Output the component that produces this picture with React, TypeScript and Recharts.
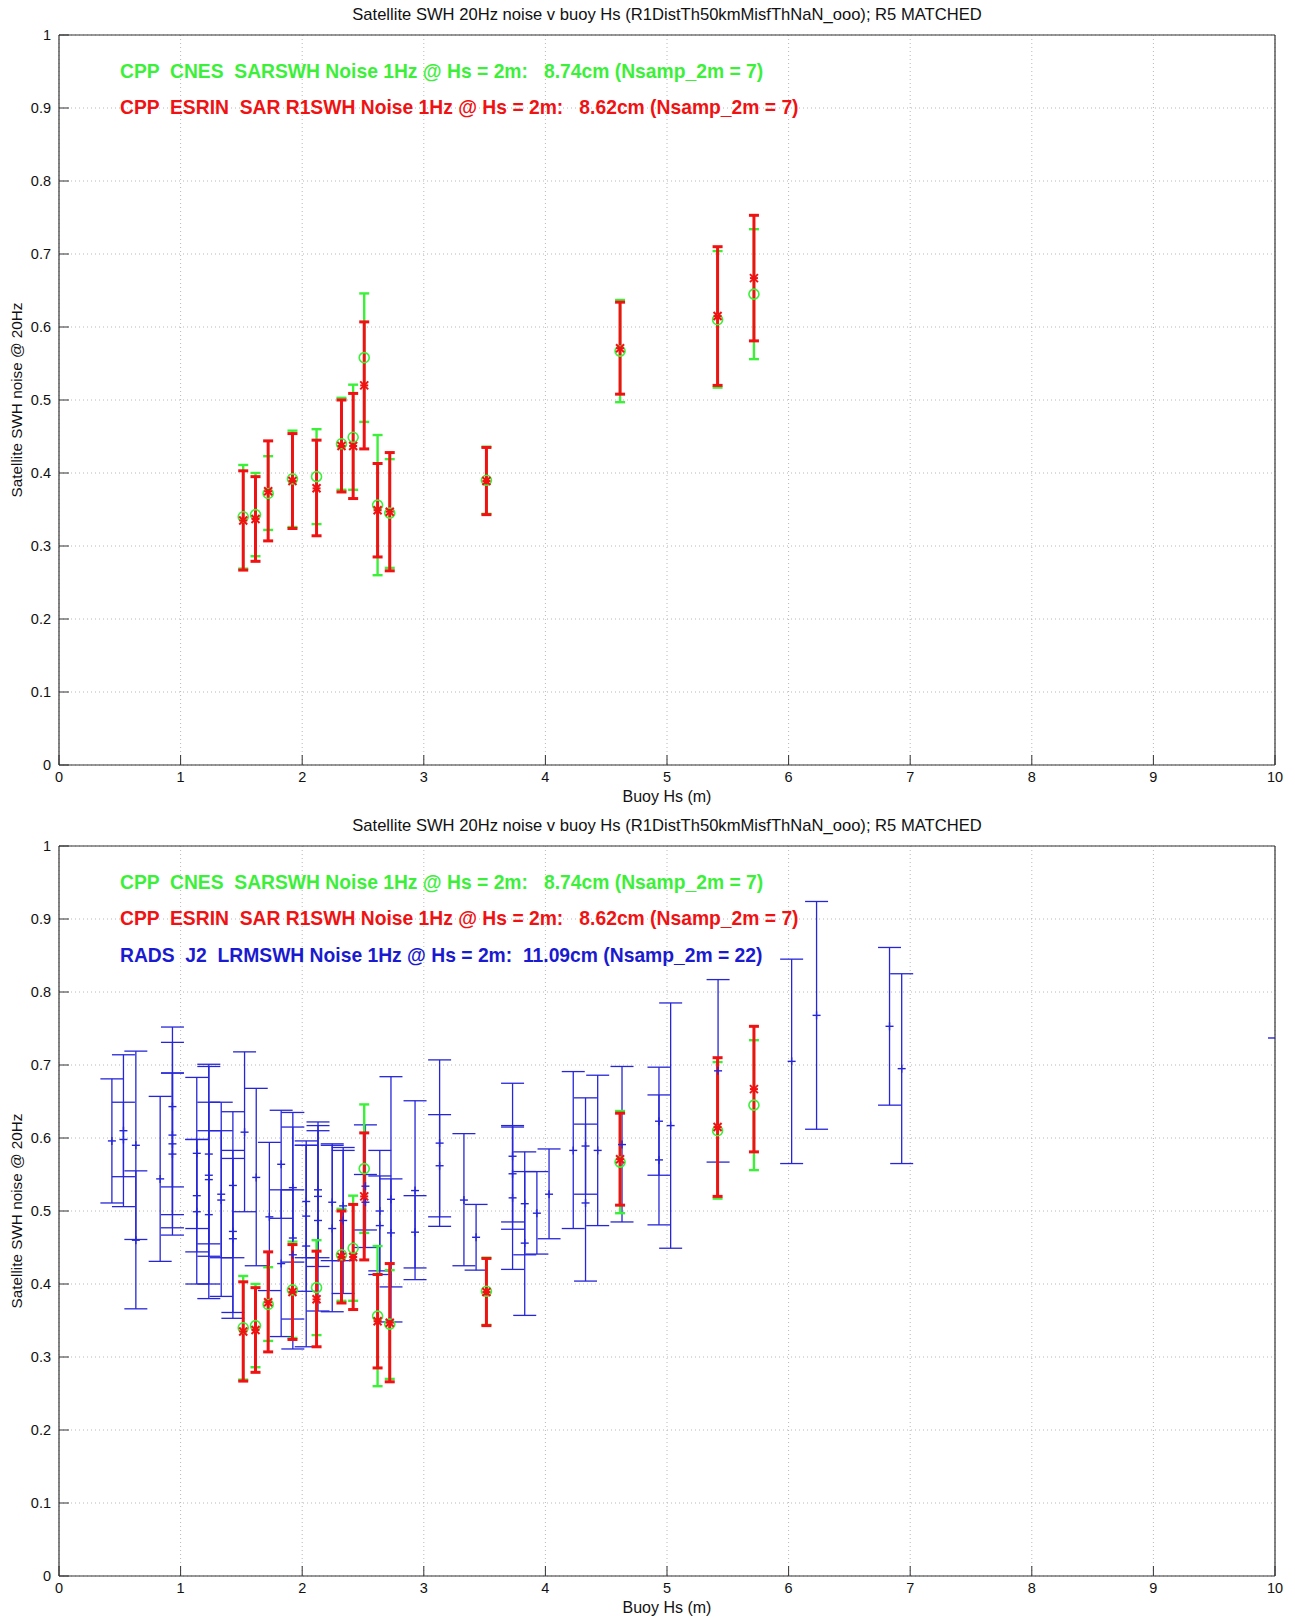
import React from 'react';
import { ScatterChart, Scatter, XAxis, YAxis, CartesianGrid, ErrorBar } from 'recharts';

// ---------- text ----------
const TITLE = 'Satellite SWH 20Hz noise v buoy Hs (R1DistTh50kmMisfThNaN_ooo); R5 MATCHED';
const X_LABEL = 'Buoy Hs (m)';
const Y_LABEL = 'Satellite SWH noise @ 20Hz';
const LEG_CNES = 'CPP  CNES  SARSWH Noise 1Hz @ Hs = 2m:   8.74cm (Nsamp_2m = 7)';
const LEG_ESRIN = 'CPP  ESRIN  SAR R1SWH Noise 1Hz @ Hs = 2m:   8.62cm (Nsamp_2m = 7)';
const LEG_RADS = 'RADS  J2  LRMSWH Noise 1Hz @ Hs = 2m:  11.09cm (Nsamp_2m = 22)';

// ---------- ticks ----------
const X_TICKS = [0, 1, 2, 3, 4, 5, 6, 7, 8, 9, 10];
const Y_TICKS = [0, 0.1, 0.2, 0.3, 0.4, 0.5, 0.6, 0.7, 0.8, 0.9, 1];

// ---------- CPP ESRIN (red) ----------
const esrinHs = [1.515, 1.616, 1.72, 1.92, 2.118, 2.323, 2.419, 2.51, 2.62, 2.72, 3.515, 4.614, 5.416, 5.715];
const esrinMid = [0.335, 0.337, 0.375, 0.389, 0.379, 0.437, 0.437, 0.52, 0.349, 0.347, 0.389, 0.571, 0.615, 0.667];
const esrinLow = [0.267, 0.279, 0.307, 0.324, 0.314, 0.374, 0.365, 0.433, 0.285, 0.266, 0.343, 0.508, 0.52, 0.581];
const esrinHigh = [0.403, 0.395, 0.444, 0.454, 0.445, 0.5, 0.509, 0.607, 0.413, 0.428, 0.435, 0.634, 0.71, 0.753];

// ---------- CPP CNES (green) ----------
const cnesHs = [1.515, 1.616, 1.72, 1.92, 2.118, 2.323, 2.419, 2.51, 2.62, 2.72, 3.515, 4.614, 5.416, 5.715];
const cnesMid = [0.34, 0.343, 0.372, 0.392, 0.395, 0.44, 0.449, 0.558, 0.356, 0.345, 0.39, 0.567, 0.61, 0.645];
const cnesLow = [0.269, 0.286, 0.322, 0.326, 0.33, 0.377, 0.377, 0.47, 0.26, 0.27, 0.344, 0.497, 0.517, 0.556];
const cnesHigh = [0.411, 0.4, 0.423, 0.458, 0.46, 0.503, 0.521, 0.646, 0.452, 0.419, 0.436, 0.637, 0.704, 0.734];

// ---------- RADS J2 (blue) ----------
const radsHs = [
  0.435, 0.53, 0.53, 0.632, 0.632, 0.832, 0.933, 0.933, 0.933, 0.933,
  1.133, 1.133, 1.133, 1.232, 1.232, 1.232, 1.232, 1.334, 1.334, 1.43,
  1.43, 1.43, 1.526, 1.622, 1.73, 1.827, 1.827, 1.923, 1.923, 1.923,
  2.033, 2.033, 2.033, 2.13, 2.13, 2.13, 2.247, 2.247, 2.337, 2.337,
  2.52, 2.52, 2.638, 2.638, 2.73, 2.73, 2.928, 2.928, 3.13, 3.13,
  3.33, 3.43, 3.73, 3.73, 3.73, 3.83, 3.83, 3.93, 4.03, 4.229,
  4.33, 4.33, 4.43, 4.63, 4.934, 4.934, 5.03, 5.42, 6.025, 6.23,
  6.83, 6.93,
];
const radsMid = [
  0.596, 0.61, 0.598, 0.59, 0.46, 0.544, 0.643, 0.604, 0.592, 0.578,
  0.579, 0.521, 0.499, 0.578, 0.549, 0.543, 0.495, 0.515, 0.523, 0.535,
  0.472, 0.462, 0.608, 0.546, 0.492, 0.564, 0.428, 0.532, 0.463, 0.44,
  0.513, 0.452, 0.493, 0.529, 0.52, 0.487, 0.512, 0.476, 0.487, 0.507,
  0.534, 0.512, 0.5, 0.48, 0.516, 0.47, 0.528, 0.471, 0.593, 0.562,
  0.515, 0.464, 0.575, 0.518, 0.551, 0.51, 0.456, 0.497, 0.523, 0.583,
  0.589, 0.511, 0.583, 0.591, 0.623, 0.57, 0.617, 0.692, 0.705, 0.768,
  0.753, 0.695,
];
const radsLow = [
  0.511, 0.506, 0.547, 0.461, 0.366, 0.431, 0.533, 0.477, 0.495, 0.467,
  0.476, 0.444, 0.4, 0.455, 0.4, 0.438, 0.38, 0.383, 0.436, 0.436,
  0.361, 0.353, 0.499, 0.425, 0.391, 0.49, 0.328, 0.43, 0.311, 0.352,
  0.436, 0.314, 0.39, 0.436, 0.424, 0.363, 0.432, 0.362, 0.387, 0.432,
  0.45, 0.474, 0.418, 0.413, 0.348, 0.396, 0.406, 0.422, 0.479, 0.492,
  0.425, 0.419, 0.475, 0.42, 0.485, 0.44, 0.357, 0.441, 0.462, 0.476,
  0.523, 0.404, 0.48, 0.485, 0.549, 0.481, 0.449, 0.567, 0.565, 0.612,
  0.645, 0.565,
];
const radsHigh = [
  0.681, 0.714, 0.649, 0.719, 0.555, 0.657, 0.752, 0.731, 0.689, 0.689,
  0.683, 0.598, 0.598, 0.701, 0.698, 0.649, 0.61, 0.649, 0.61, 0.636,
  0.583, 0.572, 0.718, 0.668, 0.594, 0.638, 0.529, 0.635, 0.615, 0.529,
  0.59, 0.59, 0.596, 0.622, 0.617, 0.61, 0.592, 0.59, 0.587, 0.583,
  0.618, 0.55, 0.583, 0.548, 0.684, 0.544, 0.651, 0.521, 0.707, 0.632,
  0.606, 0.509, 0.675, 0.615, 0.617, 0.581, 0.554, 0.554, 0.585, 0.691,
  0.655, 0.619, 0.686, 0.698, 0.697, 0.659, 0.785, 0.817, 0.845, 0.924,
  0.861, 0.825,
];
// RADS point at the right edge (only its marker is visible)
const radsEdgeHs = [10];
const radsEdgeMid = [0.737];

// ---------- styling ----------
const FONT = '"Liberation Sans", Arial, Helvetica, sans-serif';
const GREEN = '#3cf03a';
const RED = '#f01212';
const BLUE = '#2626d8';
const AXIS = '#333333';
const W = 1295;

type Row = { x: number; y: number; err: number[] };
const build = (xs: number[], mid: number[], lo: number[], hi: number[]): Row[] =>
  xs.map((x, i) => ({ x, y: mid[i], err: [mid[i] - lo[i], hi[i] - mid[i]] }));

const esrinData = build(esrinHs, esrinMid, esrinLow, esrinHigh);
const cnesData = build(cnesHs, cnesMid, cnesLow, cnesHigh);
const radsData = build(radsHs, radsMid, radsLow, radsHigh);
const radsEdgeData = radsEdgeHs.map((x, i) => ({ x, y: radsEdgeMid[i] }));

const PlusShape = (props: any) => {
  const { cx, cy } = props;
  if (cx == null || cy == null) return null;
  return (
    <g>
      <line x1={cx - 4} x2={cx + 4} y1={cy} y2={cy} stroke={BLUE} strokeWidth={1.4} />
      <line x1={cx} x2={cx} y1={cy - 4} y2={cy + 4} stroke={BLUE} strokeWidth={1.4} />
    </g>
  );
};

const EdgeShape = (props: any) => {
  const { cx, cy } = props;
  if (cx == null || cy == null) return null;
  return <line x1={cx - 7} x2={cx} y1={cy} y2={cy} stroke={BLUE} strokeWidth={1.4} />;
};

const CircleShape = (props: any) => {
  const { cx, cy } = props;
  if (cx == null || cy == null) return null;
  return <circle cx={cx} cy={cy} r={5} fill="none" stroke={GREEN} strokeWidth={1.6} />;
};

const StarShape = (props: any) => {
  const { cx, cy } = props;
  if (cx == null || cy == null) return null;
  const s = 4;
  return (
    <g stroke={RED} strokeWidth={2}>
      <line x1={cx - s} x2={cx + s} y1={cy} y2={cy} />
      <line x1={cx - s} x2={cx + s} y1={cy - s} y2={cy + s} />
      <line x1={cx - s} x2={cx + s} y1={cy + s} y2={cy - s} />
    </g>
  );
};

const textBase: React.CSSProperties = {
  position: 'absolute',
  fontFamily: FONT,
  whiteSpace: 'pre',
  margin: 0,
  padding: 0,
};

const LEG_SIZE = 19.3;

function Panel({ top, height, showRads }: { top: number; height: number; showRads: boolean }) {
  const plotTop = 35;
  const plotBottom = 765;
  const plotMidY = (plotTop + plotBottom) / 2;
  return (
    <div style={{ position: 'absolute', left: 0, top, width: W, height }}>
      <div style={{ ...textBase, left: 59, width: 1216, top: 5, textAlign: 'center', fontSize: 16.6, lineHeight: '20px', color: '#111' }}>
        {TITLE}
      </div>
      <ScatterChart
        width={W}
        height={height}
        margin={{ top: plotTop, right: 20, bottom: height - plotBottom - 30, left: 0 }}
      >
        <CartesianGrid strokeDasharray="1 3" stroke="#b8b8b8" strokeWidth={1} />
        <XAxis
          xAxisId={0}
          type="number"
          dataKey="x"
          domain={[0, 10]}
          ticks={X_TICKS}
          interval={0}
          allowDataOverflow
          height={30}
          tickSize={-10}
          tickMargin={17}
          axisLine={{ stroke: AXIS, strokeWidth: 1.2 }}
          tickLine={{ stroke: AXIS }}
          tick={{ fill: '#111', fontSize: 14.5, fontFamily: FONT }}
        />
        <XAxis
          xAxisId="top"
          orientation="top"
          type="number"
          dataKey="x"
          domain={[0, 10]}
          ticks={X_TICKS}
          interval={0}
          allowDataOverflow
          mirror
          tick={false}
          tickSize={10}
          axisLine={{ stroke: AXIS, strokeWidth: 1.2 }}
          tickLine={{ stroke: AXIS }}
        />
        <YAxis
          yAxisId={0}
          type="number"
          dataKey="y"
          domain={[0, 1]}
          ticks={Y_TICKS}
          interval={0}
          allowDataOverflow
          width={59}
          tickSize={-10}
          tickMargin={18}
          axisLine={{ stroke: AXIS, strokeWidth: 1.2 }}
          tickLine={{ stroke: AXIS }}
          tick={{ fill: '#111', fontSize: 14.5, fontFamily: FONT }}
        />
        <YAxis
          yAxisId="right"
          orientation="right"
          type="number"
          dataKey="y"
          domain={[0, 1]}
          ticks={Y_TICKS}
          interval={0}
          allowDataOverflow
          mirror
          tick={false}
          tickSize={10}
          axisLine={{ stroke: AXIS, strokeWidth: 1.2 }}
          tickLine={{ stroke: AXIS }}
        />
        {showRads && (
          <Scatter data={radsData} shape={PlusShape} isAnimationActive={false}>
            <ErrorBar dataKey="err" direction="y" width={11.5} stroke={BLUE} strokeWidth={1.3} isAnimationActive={false} />
          </Scatter>
        )}
        {showRads && <Scatter data={radsEdgeData} shape={EdgeShape} isAnimationActive={false} />}
        <Scatter data={cnesData} shape={CircleShape} isAnimationActive={false}>
          <ErrorBar dataKey="err" direction="y" width={5} stroke={GREEN} strokeWidth={2.4} isAnimationActive={false} />
        </Scatter>
        <Scatter data={esrinData} shape={StarShape} isAnimationActive={false}>
          <ErrorBar dataKey="err" direction="y" width={5} stroke={RED} strokeWidth={3} isAnimationActive={false} />
        </Scatter>
      </ScatterChart>
      <div style={{ ...textBase, left: 567, width: 200, top: plotBottom + 22, textAlign: 'center', fontSize: 16, lineHeight: '20px', color: '#111' }}>
        {X_LABEL}
      </div>
      <div
        style={{
          ...textBase,
          left: 16.5 - 150,
          width: 300,
          top: plotMidY - 10,
          height: 20,
          textAlign: 'center',
          fontSize: 15.3,
          lineHeight: '20px',
          color: '#111',
          transform: 'rotate(-90deg)',
        }}
      >
        {Y_LABEL}
      </div>
      <div style={{ ...textBase, left: 120, top: 61, fontSize: LEG_SIZE, fontWeight: 'bold', lineHeight: '22px', color: GREEN }}>
        {LEG_CNES}
      </div>
      <div style={{ ...textBase, left: 120, top: 97, fontSize: LEG_SIZE, fontWeight: 'bold', lineHeight: '22px', color: RED }}>
        {LEG_ESRIN}
      </div>
      {showRads && (
        <div style={{ ...textBase, left: 120, top: 134, fontSize: LEG_SIZE, fontWeight: 'bold', lineHeight: '22px', color: '#1a1ad0' }}>
          {LEG_RADS}
        </div>
      )}
    </div>
  );
}

export default function App() {
  return (
    <div style={{ position: 'absolute', left: 0, top: 0, width: W, height: 1618, background: '#fff', overflow: 'hidden' }}>
      <Panel top={0} height={811} showRads={false} />
      <Panel top={811} height={807} showRads={true} />
    </div>
  );
}
